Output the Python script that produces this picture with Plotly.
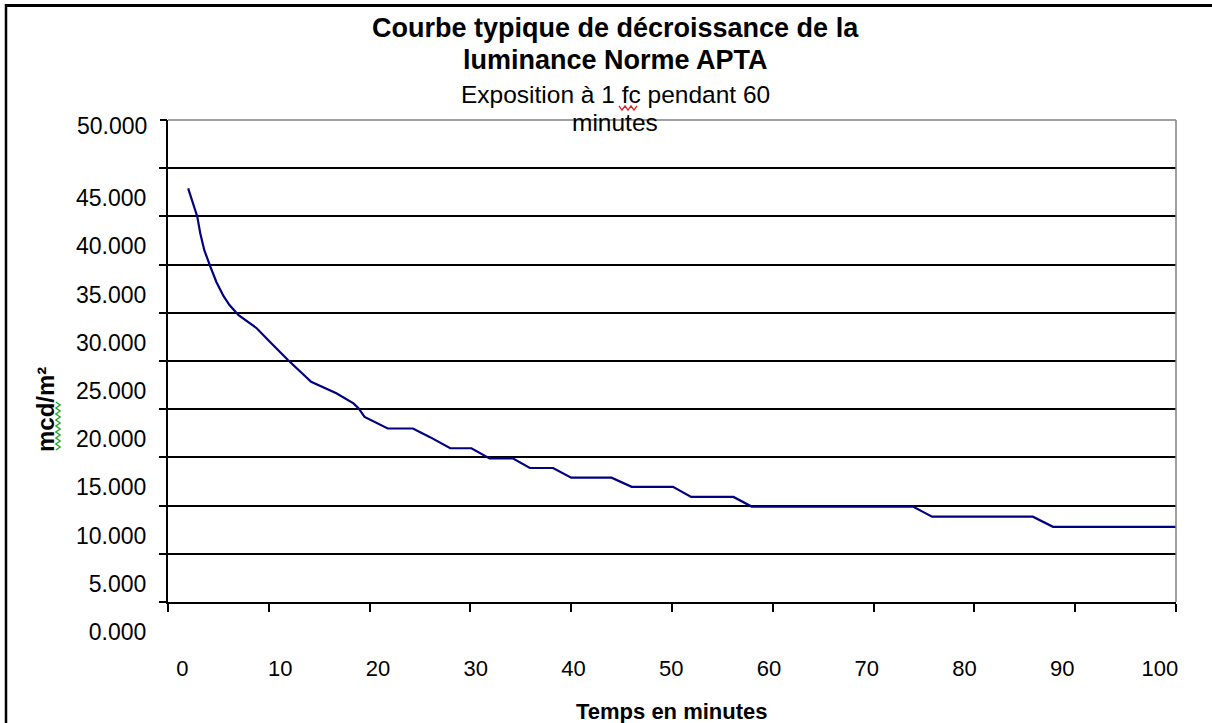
import plotly.graph_objects as go

# ---- data ----
time_min = [2.0, 2.9, 3.2, 3.6, 4.2, 4.8, 5.5, 6.1, 7.0, 7.6, 8.8, 10.1, 11.9, 14.2,
            16.7, 18.4, 18.9, 19.5, 21.8, 24.3, 25.3, 26.0, 28.0, 30.1, 31.9, 34.2,
            35.9, 38.2, 40.0, 44.0, 46.0, 50.1, 51.9, 56.1, 57.9, 73.9, 74.9, 75.8,
            85.8, 86.8, 87.8, 100.0]
luminance = [42900, 40000, 38250, 36500, 34800, 33200, 31750, 30800, 29750, 29300,
             28400, 27000, 25100, 22850, 21650, 20600, 20100, 19200, 18000, 18000,
             17480, 17100, 15950, 15950, 14900, 14900, 13900, 13900, 12900, 12900,
             11950, 11950, 10900, 10900, 9900, 9900, 9350, 8850, 8850, 8300, 7800, 7800]

y_tick_vals = [0, 5000, 10000, 15000, 20000, 25000, 30000, 35000, 40000, 45000]
y_tick_text = ["0.000", "5.000", "10.000", "15.000", "20.000", "25.000",
               "30.000", "35.000", "40.000", "45.000"]
y_top_vals = [50000]
y_top_text = ["50.000"]
x_tick_vals = [0, 10, 20, 30, 40, 50, 60, 70, 80, 90, 100]
x_tick_text = ["0", "10", "20", "30", "40", "50", "60", "70", "80", "90", "100"]

title_lines = ["<b>Courbe typique de décroissance de la</b>", "<b>luminance Norme APTA</b>"]
subtitle_lines = ["Exposition à 1 fc pendant 60", "minutes"]
x_title = "<b>Temps en minutes</b>"
y_title = "<b>mcd/m²</b>"

# ---- layout geometry ----
W, H = 1212, 723
L, R, T, B = 168, 36, 120, 121
PW, PH = W - L - R, H - T - B
FONT = "Liberation Sans, Arial, sans-serif"


def xp(px):
    return (px - L) / PW


def yp(py):
    return (H - B - py) / PH


def squiggle_h(x0, x1, yc, amp=2.2, step=3.0):
    pts, x, k = [], x0, 0
    while x <= x1 + 0.01:
        pts.append((xp(x), yp(yc + (amp if k % 2 else -amp))))
        x += step
        k += 1
    return "M " + " L ".join(f"{a:.5f},{b:.5f}" for a, b in pts)


def squiggle_v(xc, y0, y1, amp=2.2, step=3.0):
    pts, y, k = [], y0, 0
    while y <= y1 + 0.01:
        pts.append((xp(xc + (amp if k % 2 else -amp)), yp(y)))
        y += step
        k += 1
    return "M " + " L ".join(f"{a:.5f},{b:.5f}" for a, b in pts)


fig = go.Figure()
fig.add_trace(go.Scatter(
    x=time_min, y=luminance, mode="lines",
    line=dict(color="#000080", width=2.2),
    showlegend=False, hoverinfo="x+y"))
# helper traces so that the overlaid label axes are drawn (single point -> no visible mark)
fig.add_trace(go.Scatter(x=[x_tick_vals[-1]], y=[y_tick_vals[0]], xaxis="x2", yaxis="y",
                         mode="lines", line=dict(width=0), showlegend=False,
                         hoverinfo="skip"))
fig.add_trace(go.Scatter(x=[x_tick_vals[-1]], y=[y_tick_vals[0]], xaxis="x", yaxis="y2",
                         mode="lines", line=dict(width=0), showlegend=False,
                         hoverinfo="skip"))

fig.update_layout(
    width=W, height=H,
    margin=dict(l=L, r=R, t=T, b=B, pad=0),
    paper_bgcolor="white", plot_bgcolor="white",
    font=dict(family=FONT, color="black", size=22),
    showlegend=False,
    xaxis=dict(range=[0, 100], tickvals=x_tick_vals, showticklabels=False,
               ticks="outside", ticklen=8, tickwidth=2, tickcolor="black",
               showline=True, linecolor="black", linewidth=2,
               showgrid=False, zeroline=False, fixedrange=True),
    xaxis2=dict(overlaying="x", anchor="y", side="bottom",
                range=[-1.47, 101.64], tickvals=x_tick_vals, ticktext=x_tick_text,
                ticks="", showline=False, showgrid=False, zeroline=False,
                ticklabelstandoff=51, tickfont=dict(size=22), fixedrange=True),
    yaxis=dict(range=[0, 50000], tickvals=y_tick_vals, ticktext=y_tick_text,
               ticks="outside", ticklen=7, tickwidth=2, tickcolor="black",
               showgrid=True, gridcolor="black", gridwidth=2,
               showline=True, linecolor="black", linewidth=2, zeroline=False,
               ticklabelshift=30, ticklabelstandoff=8,
               tickfont=dict(size=23), fixedrange=True),
    yaxis2=dict(overlaying="y", anchor="x", side="left", range=[0, 50000],
                tickvals=y_top_vals, ticktext=y_top_text,
                ticks="outside", ticklen=7, tickwidth=2, tickcolor="black",
                showgrid=False, showline=False, zeroline=False,
                ticklabelshift=6, ticklabelstandoff=8,
                tickfont=dict(size=23), fixedrange=True),
)

# plot border (grey top & right), outer frame
fig.add_shape(type="line", xref="paper", yref="paper", x0=0, x1=1, y0=1, y1=1,
              line=dict(color="#808080", width=1.5))
fig.add_shape(type="line", xref="paper", yref="paper", x0=1, x1=1, y0=0, y1=1,
              line=dict(color="#808080", width=1.5))
fig.add_shape(type="line", xref="paper", yref="paper",
              x0=xp(5), x1=xp(1212), y0=yp(5.5), y1=yp(5.5),
              line=dict(color="black", width=3))
fig.add_shape(type="line", xref="paper", yref="paper",
              x0=xp(6), x1=xp(6), y0=yp(723), y1=yp(4),
              line=dict(color="black", width=2.5))

for txt, yc, sz in [(title_lines[0], 28, 27), (title_lines[1], 60, 27),
                    (subtitle_lines[0], 95, 24.5), (subtitle_lines[1], 123, 24.5)]:
    fig.add_annotation(text=txt, xref="paper", yref="paper",
                       x=xp(615), y=yp(yc), xanchor="center", yanchor="middle",
                       showarrow=False, font=dict(size=sz, color="black"))
fig.add_annotation(text=x_title, xref="paper", yref="paper",
                   x=xp(672), y=yp(711), xanchor="center", yanchor="middle",
                   showarrow=False, font=dict(size=22, color="black"))
fig.add_annotation(text=y_title, xref="paper", yref="paper",
                   x=xp(45), y=yp(410), xanchor="center", yanchor="middle",
                   textangle=-90, showarrow=False, font=dict(size=24, color="black"))

# spell-check squiggles seen in the reference
fig.add_shape(type="path", xref="paper", yref="paper",
              path=squiggle_h(619, 638, 108), line=dict(color="#e02020", width=1.3))
fig.add_shape(type="path", xref="paper", yref="paper",
              path=squiggle_v(58, 402, 452), line=dict(color="#22a022", width=1.3))

fig.write_html("out.html", config={"displayModeBar": False},
               post_script="document.body.style.margin='0';"
                           "document.body.style.overflow='hidden';")
